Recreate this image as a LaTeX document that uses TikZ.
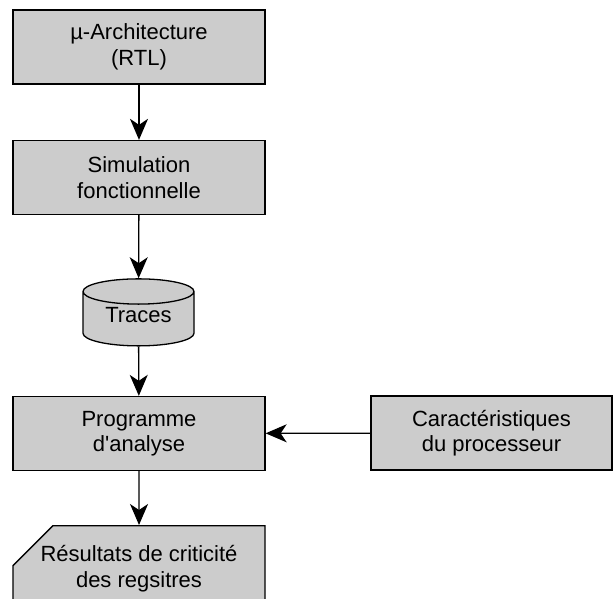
\documentclass[tikz,border=0pt]{standalone}
\usepackage{fontspec}
\setmainfont{Liberation Sans}
\usetikzlibrary{shapes.geometric,shapes.misc,arrows.meta}
\definecolor{boxgray}{HTML}{CCCCCC}
\begin{document}
\begin{tikzpicture}[x=1pt,y=-1pt,
	box/.style={draw, fill=boxgray, line width=1.3pt, minimum width=252pt, minimum height=74pt, inner sep=0pt, align=center, font=\fontsize{22}{25.5}\selectfont},
	flow/.style={-{Stealth[length=21pt,width=18pt,inset=6pt]}, line width=1.3pt}]
	\useasboundingbox (0,0) rectangle (613,599);
	\node [box] (rtl) at (139,47) {µ-Architecture\\(RTL)};
	\node [box] (sim) at (139,177.5) {Simulation\\fonctionnelle};
	\node [box, cylinder, shape border rotate=90, aspect=0.38, minimum width=111pt, minimum height=67pt, text depth=8pt] (traces) at (138.5,319) {Traces};
	\node [box] (prog) at (139,433.5) {Programme\\d\textquotesingle analyse};
	\node [box, minimum width=241pt] (carac) at (491.5,433) {Caractéristiques\\du processeur};
	\node [box, chamfered rectangle, chamfered rectangle corners=north west, chamfered rectangle xsep=20pt, chamfered rectangle ysep=20pt, minimum height=80pt, anchor=north] (res) at (139,525) {Résultats de criticité\\des regsitres};
	\draw [flow] (rtl) -- (sim);
	\draw [flow] (sim) -- (traces);
	\draw [flow] (traces) -- (prog);
	\draw [flow] (prog) -- (res);
	\draw [flow] (carac) -- (prog);
\end{tikzpicture}
\end{document}
